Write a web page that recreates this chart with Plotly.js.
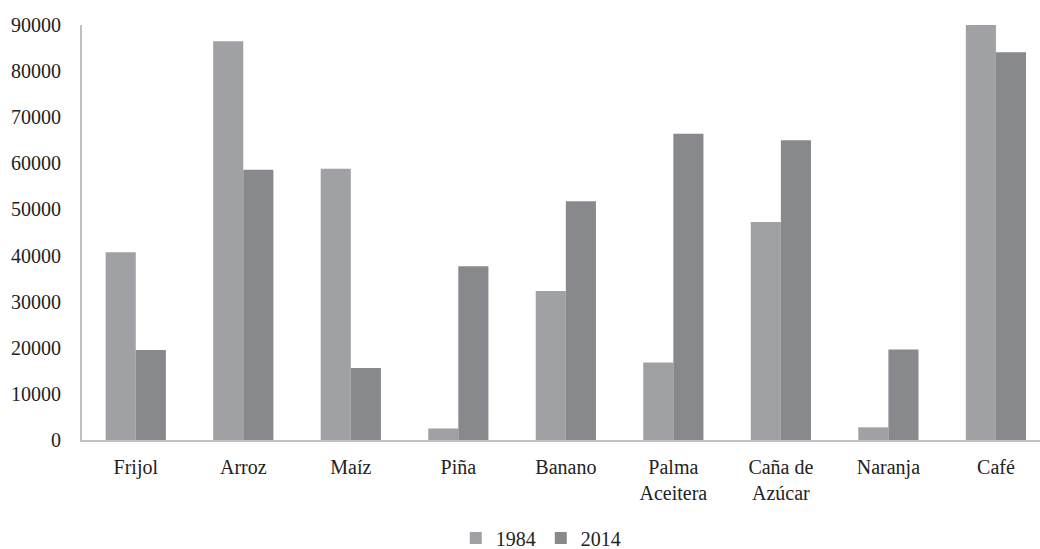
<!DOCTYPE html>
<html>
<head>
<meta charset="utf-8">
<script src="https://cdn.plot.ly/plotly-3.0.1.min.js"></script>
<style>html,body{margin:0;padding:0;background:#fff;}#chart{width:1040px;height:549px;}</style>
</head>
<body>
<div id="chart"></div>
<script>
const categories = ["Frijol", "Arroz", "Maíz", "Piña", "Banano", "Palma<br>Aceitera", "Caña de<br>Azúcar", "Naranja", "Café"];
const values1984 = [40700, 86500, 58800, 2500, 32300, 16800, 47300, 2750, 90000];
const values2014 = [19500, 58600, 15600, 37700, 51800, 66400, 65000, 19600, 84100];
const yTicks = [0, 10000, 20000, 30000, 40000, 50000, 60000, 70000, 80000, 90000];

const font = {family: "'Liberation Serif', 'DejaVu Serif', serif", size: 20, color: "#222"};

const data = [
  {type: "bar", name: "1984", x: categories, y: values1984, marker: {color: "#a0a1a5"}},
  {type: "bar", name: "2014", x: categories, y: values2014, marker: {color: "#88898d"}}
];

const layout = {
  width: 1040, height: 549,
  margin: {l: 82, r: 0, t: 25, b: 109},
  paper_bgcolor: "#fff", plot_bgcolor: "#fff",
  font: font,
  barmode: "group", bargap: 0.44, bargroupgap: 0,
  xaxis: {
    type: "category", range: [-0.5, 8.41],
    showline: true, linecolor: "#c0c0c0", linewidth: 2,
    showgrid: false, ticks: "", ticklabelstandoff: 8,
    tickfont: font, fixedrange: true
  },
  yaxis: {
    range: [0, 90000], tickvals: yTicks, ticktext: yTicks.map(String),
    showline: true, linecolor: "#c0c0c0", linewidth: 2,
    showgrid: false, zeroline: false, ticks: "", ticklabelstandoff: 15,
    tickfont: font, fixedrange: true
  },
  legend: {
    orientation: "h", xref: "container", yref: "container",
    x: 0.52, xanchor: "center", y: 0.02, yanchor: "middle",
    font: font, itemwidth: 30, traceorder: "normal", tracegroupgap: 0
  },
  showlegend: true
};

Plotly.newPlot("chart", data, layout, {displayModeBar: false, staticPlot: true});
</script>
</body>
</html>
